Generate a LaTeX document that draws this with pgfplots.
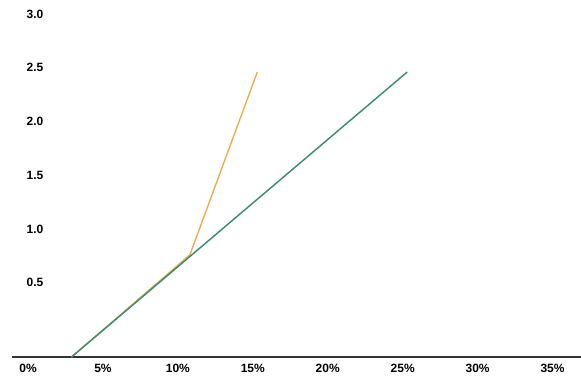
\documentclass[border=0pt]{standalone}
\usepackage{pgfplots}
\pgfplotsset{compat=1.18}
\usepackage{fontspec}
\setmainfont{Liberation Sans}
\definecolor{lgreen}{HTML}{3C8C78}
\definecolor{lorange}{HTML}{F0A848}
\begin{document}
\begin{tikzpicture}[x=1pt,y=1pt]
\useasboundingbox (-9,-24) rectangle (426.75,267.75);
\begin{axis}[
  at={(0,0)}, anchor=south west,
  scale only axis, width=426.75pt, height=267.75pt,
  xmin=-1.07, xmax=36.9, ymin=-0.19, ymax=3.13,
  axis x line*=bottom, axis y line*=left,
  x axis line style={-, line width=1.2pt, color=black!80},
  y axis line style={draw=none},
  xtick={0,5,10,15,20,25,30,35},
  xticklabels={0\%,5\%,10\%,15\%,20\%,25\%,30\%,35\%},
  ytick={0.5,1.0,1.5,2.0,2.5,3.0},
  yticklabels={0.5,1.0,1.5,2.0,2.5,3.0},
  major tick length=0pt,
  tick label style={font=\fontsize{9}{10}\selectfont\bfseries},
  /pgf/number format/assume math mode=true,
  yticklabel style={anchor=east, xshift=27pt},
  xticklabel style={yshift=-2pt},
  clip=false,
]
\addplot[lorange, line width=1pt] coordinates {(2.9,-0.19) (10.8,0.76) (15.3,2.46)};
\addplot[lgreen, line width=1.1pt] coordinates {(2.9,-0.19) (25.3,2.46)};
\end{axis}
\end{tikzpicture}
\end{document}
